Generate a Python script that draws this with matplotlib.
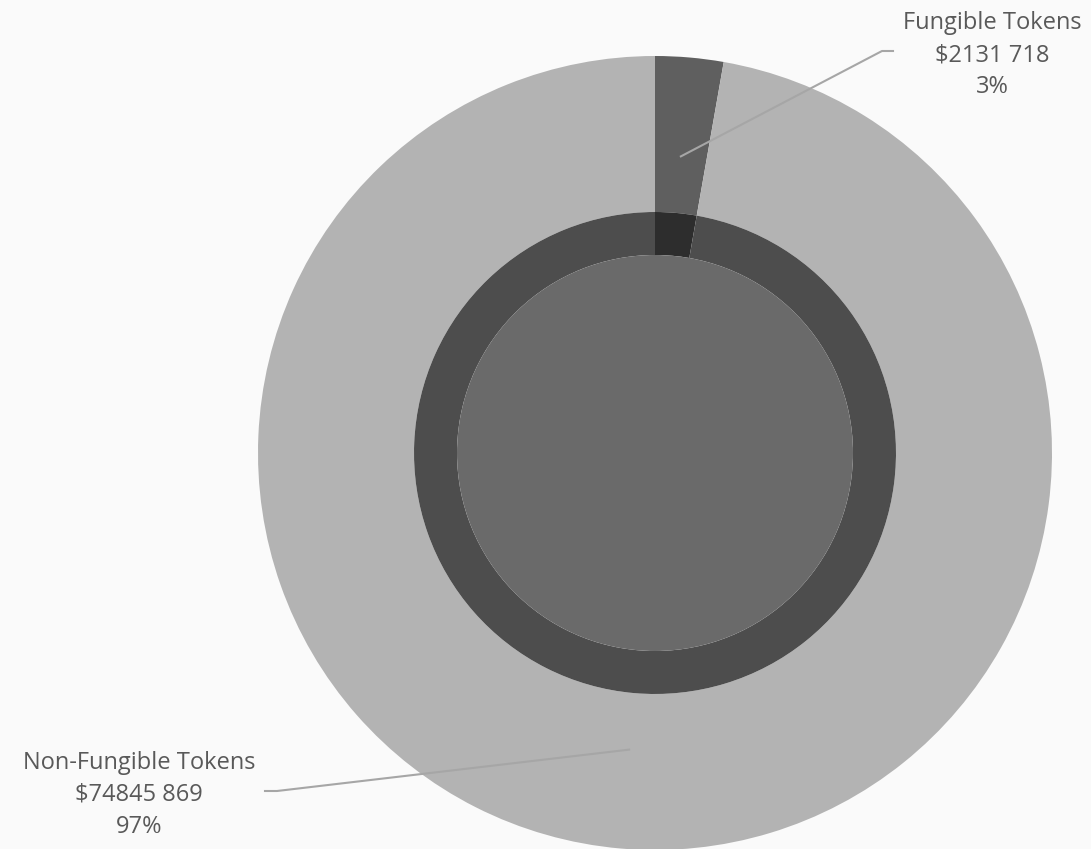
import numpy as np
import matplotlib
matplotlib.use("Agg")
import matplotlib.pyplot as plt

# data
labels = ["Fungible Tokens", "Non-Fungible Tokens"]
values = [2131718, 74845869]
value_text = ["$2131 718", "$74845 869"]

outer_colors = ["#5f5f5f", "#b3b3b3"]
ring_colors = ["#2d2d2d", "#4d4d4d"]
core_color = "#6a6a6a"
bg = "#fafafa"

plt.rcParams['font.family'] = ['Open Sans', 'DejaVu Sans']

fig = plt.figure(figsize=(10.91, 8.49), dpi=100, facecolor=bg)
ax = fig.add_axes([0, 0, 1, 1])
ax.set_facecolor(bg)

cx, cy = 655, 396
R_out, R_ring, R_core = 397, 241, 198

# outer pie
wedges, _ = ax.pie(values, radius=R_out, center=(cx, cy), startangle=90,
                   counterclock=False, colors=outer_colors,
                   wedgeprops=dict(width=R_out - R_ring, linewidth=0))
# ring
ax.pie(values, radius=R_ring, center=(cx, cy), startangle=90,
       counterclock=False, colors=ring_colors,
       wedgeprops=dict(width=R_ring - R_core, linewidth=0))
# inner disk
ax.add_patch(plt.Circle((cx, cy), R_core, color=core_color, lw=0))

# leader lines + labels
elbows = [((882, 798), (893, 798)), ((277, 58), (265, 58))]
text_pos = [(992, 794), (139, 54)]
pct = np.array(values) / sum(values) * 100
for w, (e1, e2), (tx, ty), lab, vt, p in zip(wedges, elbows, text_pos, labels, value_text, pct):
    ang = np.deg2rad((w.theta1 + w.theta2) / 2)
    sx = cx + 0.75 * R_out * np.cos(ang)
    sy = cy + 0.75 * R_out * np.sin(ang)
    ax.plot([sx, e1[0], e2[0]], [sy, e1[1], e2[1]], color="#a6a6a6", lw=1.5,
            solid_joinstyle="round")
    ax.text(tx, ty, f"{lab}\n{vt}\n{p:.0f}%", ha="center", va="center",
            fontsize=17, color="#595959", linespacing=1.45)

ax.set_xlim(0, 1091)
ax.set_ylim(0, 849)
ax.set_aspect("equal")
ax.axis("off")

fig.savefig("out.png", dpi=100, facecolor=bg)
